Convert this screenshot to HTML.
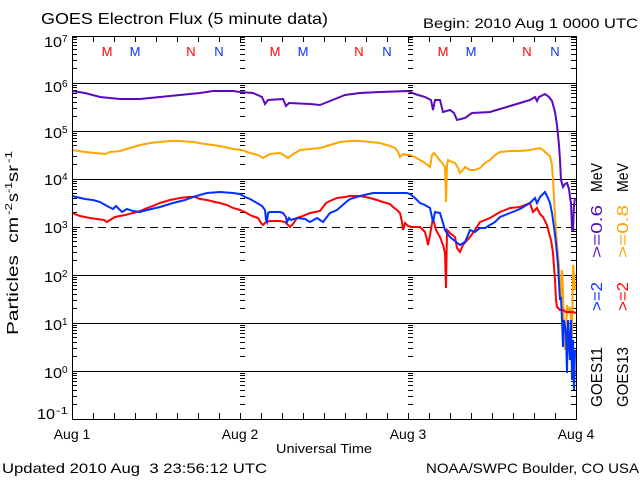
<!DOCTYPE html>
<html>
<head>
<meta charset="utf-8">
<style>
  html,body{margin:0;padding:0;background:#fff;}
  svg{display:block;}
  text{font-family:"Liberation Sans",sans-serif;fill:#000;}
</style>
</head>
<body>
<svg width="640" height="480" viewBox="0 0 640 480" xmlns="http://www.w3.org/2000/svg">
  <rect x="0" y="0" width="640" height="480" fill="#fff"/>
  <defs>
    <path id="dec" d="M0 -14.5h5M0 -22.5h5M0 -28.5h5M0 -33.5h5M0 -37.5h5M0 -40.5h5M0 -43.5h5M0 -45.5h5" stroke="#000" stroke-width="1" fill="none"/>
    <g id="ycol">
      <use href="#dec" transform="translate(0,83)"/>
      <use href="#dec" transform="translate(0,131)"/>
      <use href="#dec" transform="translate(0,179)"/>
      <use href="#dec" transform="translate(0,227)"/>
      <use href="#dec" transform="translate(0,275)"/>
      <use href="#dec" transform="translate(0,323)"/>
      <use href="#dec" transform="translate(0,371)"/>
      <use href="#dec" transform="translate(0,419)"/>
    </g>
    <path id="xday" d="M21.5 0v-6M42.5 0v-6M63.5 0v-6M84.5 0v-6M105.5 0v-6M126.5 0v-6M147.5 0v-6M168.5 0v-6" stroke="#000" stroke-width="1" fill="none"/>
  </defs>

  <g shape-rendering="crispEdges">
    <!-- grid lines -->
    <path d="M72 83.5H576M72 131.5H576M72 179.5H576M72 275.5H576M72 323.5H576M72 371.5H576" stroke="#000" stroke-width="1"/>
    <path d="M72 227.5H576" stroke="#000" stroke-width="1" stroke-dasharray="8 5"/>
    <!-- y ticks -->
    <use href="#ycol" transform="translate(72,0)"/>
    <use href="#ycol" transform="translate(571,0)"/>
    <use href="#ycol" transform="translate(240,0)"/>
    <use href="#ycol" transform="translate(408,0)"/>
    <!-- x ticks bottom -->
    <use href="#xday" transform="translate(72,419)"/>
    <use href="#xday" transform="translate(240,419)"/>
    <use href="#xday" transform="translate(408,419)"/>
    <!-- x ticks top -->
    <use href="#xday" transform="translate(72,36) scale(1,-1)"/>
    <use href="#xday" transform="translate(240,36) scale(1,-1)"/>
    <use href="#xday" transform="translate(408,36) scale(1,-1)"/>
  </g>

  <!-- data -->
  <g fill="none" stroke-width="2" stroke-linejoin="miter">
    <polyline stroke="#ffa500" points="72,150 85,152 95,153 105,154 110,152 120,151 130,148 140,145 150,143 160,142 170,141 180,141 193,142 205,144 213,145 225,147 233,149 242,150 250,153 258,155 263,158 266,156 270,154 280,153 285,156 288,158 292,155 300,150 310,149 320,148 330,145 340,142 350,141 360,141 370,142 380,143 390,146 395,148 398,152 400,157 403,154 407,155 410,155 415,157 420,160 425,163 430,167 432,155 434,153 438,158 442,163 445,167 446,202 447,165 448,160 452,162 455,163 458,168 460,173 463,170 465,167 470,170 475,170 480,168 485,163 490,160 495,155 500,152 510,151 520,151 530,150 540,148 543,150 546,153 550,156 552,165 553,180 555,215 557,245 559,265 560,287 561,300 562,270 563,290 564,330 565,350 566,330 567,305 568,312 570,307 571,322 572,337 573,265 574,275 575,290"/>
    <polyline stroke="#5a0abe" points="72,91 85,93 100,97 120,99 140,99 160,97 180,95 200,93 213,91 233,91 240,92 253,93 262,97 265,104 268,100 283,99 286,106 289,103 310,104 320,105 325,103 330,101 340,97 345,95 360,93 380,92 408,91 415,94 425,97 431,100 433,110 435,100 440,100 443,112 450,110 454,113 457,120 465,118 472,113 490,112 500,109 510,106 520,103 530,100 535,97 537,101 539,97 545,94 549,97 552,101 555,112 557,125 559,145 560,160 561,180 563,187 565,184 567,183 569,189 570,197 571,203 572,229 573,231 574,205 575,198"/>
    <polyline stroke="#ff0000" points="72,213 80,216 90,218 97,219 104,220 107,222 110,220 115,217 125,215 133,213 140,211 147,208 153,206 160,203 170,200 180,198 188,197 195,197 200,199 207,200 215,202 220,203 227,205 233,208 240,210 245,212 250,215 255,217 258,218 261,223 263,225 266,222 270,221 280,221 285,222 288,225 290,227 293,224 297,218 303,216 310,213 315,212 320,211 323,207 326,203 330,201 337,198 345,197 350,196 360,196 370,198 377,200 383,202 390,204 393,207 397,210 400,213 402,222 403,230 405,223 408,226 412,227 420,227 425,232 427,240 428,245 430,235 433,218 436,230 440,237 443,245 445,253 446,288 447,230 450,233 455,237 457,248 460,252 463,245 470,237 475,230 480,222 490,218 500,212 510,208 520,207 530,203 533,212 537,208 540,214 543,217 547,225 549,233 551,240 553,253 555,280 556,300 557,307 560,310 563,310 566,312 570,312 573,312 576,313"/>
    <polyline stroke="#0032ff" points="72,196 85,199 93,200 100,202 107,206 113,209 116,206 118,208 122,212 127,209 133,211 140,212 147,210 160,207 173,203 185,200 193,197 200,195 207,193 220,192 233,193 240,194 245,197 250,199 257,203 262,206 265,210 266,220 267,222 268,213 270,212 280,212 283,213 286,217 287,222 289,218 291,220 297,218 305,219 310,222 317,218 323,222 330,213 337,210 345,203 350,199 360,196 373,193 387,193 400,193 407,193 410,194 415,198 420,203 425,205 430,208 433,222 435,212 440,213 443,223 445,230 447,233 450,237 455,241 460,245 465,242 468,235 470,230 475,232 480,228 485,228 490,225 495,222 500,217 510,213 520,209 530,203 535,198 537,203 540,197 545,192 548,198 550,203 552,213 554,227 556,243 558,265 559,283 560,300 561,297 562,320 563,347 564,320 566,333 567,373 568,320 569,340 570,360 571,320 572,380 573,340 574,390 575,350"/>
  </g>

  <!-- frame -->
  <rect x="72.5" y="36.5" width="504" height="383" fill="none" stroke="#000" stroke-width="1" shape-rendering="crispEdges"/>

  <!-- titles -->
  <text x="41" y="24" font-size="16" textLength="287" lengthAdjust="spacingAndGlyphs">GOES Electron Flux (5 minute data)</text>
  <text x="423" y="28" font-size="14" textLength="215" lengthAdjust="spacingAndGlyphs">Begin: 2010 Aug 1 0000 UTC</text>

  <!-- M/N markers -->
  <g font-size="13" text-anchor="middle">
    <text x="107" y="56" style="fill:#ff0000">M</text>
    <text x="135" y="56" style="fill:#0032ff">M</text>
    <text x="191" y="56" style="fill:#ff0000">N</text>
    <text x="219" y="56" style="fill:#0032ff">N</text>
    <text x="275" y="56" style="fill:#ff0000">M</text>
    <text x="303" y="56" style="fill:#0032ff">M</text>
    <text x="359" y="56" style="fill:#ff0000">N</text>
    <text x="387" y="56" style="fill:#0032ff">N</text>
    <text x="443" y="56" style="fill:#ff0000">M</text>
    <text x="471" y="56" style="fill:#0032ff">M</text>
    <text x="527" y="56" style="fill:#ff0000">N</text>
    <text x="555" y="56" style="fill:#0032ff">N</text>
  </g>

  <!-- y-axis labels -->
  <g font-size="15">
    <text x="44" y="47" textLength="18" lengthAdjust="spacingAndGlyphs">10</text><text x="62" y="42" font-size="10">7</text>
    <text x="44" y="92" textLength="18" lengthAdjust="spacingAndGlyphs">10</text><text x="62" y="87" font-size="10">6</text>
    <text x="44" y="138" textLength="18" lengthAdjust="spacingAndGlyphs">10</text><text x="62" y="133" font-size="10">5</text>
    <text x="44" y="185" textLength="18" lengthAdjust="spacingAndGlyphs">10</text><text x="62" y="180" font-size="10">4</text>
    <text x="44" y="233" textLength="18" lengthAdjust="spacingAndGlyphs">10</text><text x="62" y="228" font-size="10">3</text>
    <text x="44" y="282" textLength="18" lengthAdjust="spacingAndGlyphs">10</text><text x="62" y="277" font-size="10">2</text>
    <text x="44" y="330" textLength="18" lengthAdjust="spacingAndGlyphs">10</text><text x="62" y="325" font-size="10">1</text>
    <text x="44" y="378" textLength="18" lengthAdjust="spacingAndGlyphs">10</text><text x="62" y="373" font-size="10">0</text>
    <text x="37" y="419" textLength="18" lengthAdjust="spacingAndGlyphs">10</text><text x="56" y="414" font-size="10" textLength="12" lengthAdjust="spacingAndGlyphs">-1</text>
  </g>

  <!-- y-axis title (rotated) -->
  <g font-size="16">
    <text transform="translate(18,335) rotate(-90)" textLength="80" lengthAdjust="spacingAndGlyphs">Particles</text>
    <text transform="translate(18,243) rotate(-90)" textLength="26" lengthAdjust="spacingAndGlyphs">cm</text>
    <text transform="translate(12,215) rotate(-90)" font-size="10" textLength="12" lengthAdjust="spacingAndGlyphs">-2</text>
    <text transform="translate(18,202) rotate(-90)" textLength="9" lengthAdjust="spacingAndGlyphs">s</text>
    <text transform="translate(12,193) rotate(-90)" font-size="10" textLength="11" lengthAdjust="spacingAndGlyphs">-1</text>
    <text transform="translate(18,182) rotate(-90)" textLength="17" lengthAdjust="spacingAndGlyphs">sr</text>
    <text transform="translate(12,163) rotate(-90)" font-size="10" textLength="12" lengthAdjust="spacingAndGlyphs">-1</text>
  </g>

  <!-- right legend (rotated) -->
  <g font-size="16">
    <text transform="translate(602,407) rotate(-90)" textLength="60" lengthAdjust="spacingAndGlyphs">GOES11</text>
    <text transform="translate(602,311) rotate(-90)" textLength="29" lengthAdjust="spacingAndGlyphs" style="fill:#0032ff">&gt;=2</text>
    <text transform="translate(602,258) rotate(-90)" textLength="53" lengthAdjust="spacingAndGlyphs" style="fill:#5a0abe">&gt;=0.6</text>
    <text transform="translate(602,192) rotate(-90)" textLength="29" lengthAdjust="spacingAndGlyphs">MeV</text>

    <text transform="translate(628,407) rotate(-90)" textLength="60" lengthAdjust="spacingAndGlyphs">GOES13</text>
    <text transform="translate(628,311) rotate(-90)" textLength="29" lengthAdjust="spacingAndGlyphs" style="fill:#ff0000">&gt;=2</text>
    <text transform="translate(628,258) rotate(-90)" textLength="53" lengthAdjust="spacingAndGlyphs" style="fill:#ffa500">&gt;=0.8</text>
    <text transform="translate(628,192) rotate(-90)" textLength="29" lengthAdjust="spacingAndGlyphs">MeV</text>
  </g>

  <!-- x-axis labels -->
  <g font-size="14" text-anchor="middle">
    <text x="72" y="439">Aug 1</text>
    <text x="240" y="439">Aug 2</text>
    <text x="408" y="439">Aug 3</text>
    <text x="576" y="439">Aug 4</text>
  </g>
  <text x="276" y="453" font-size="13" textLength="96" lengthAdjust="spacingAndGlyphs">Universal Time</text>

  <!-- footer -->
  <text x="2" y="473" font-size="14" textLength="265" lengthAdjust="spacingAndGlyphs" xml:space="preserve">Updated 2010 Aug  3 23:56:12 UTC</text>
  <text x="426" y="473" font-size="14" textLength="213" lengthAdjust="spacingAndGlyphs">NOAA/SWPC Boulder, CO USA</text>
</svg>
</body>
</html>
